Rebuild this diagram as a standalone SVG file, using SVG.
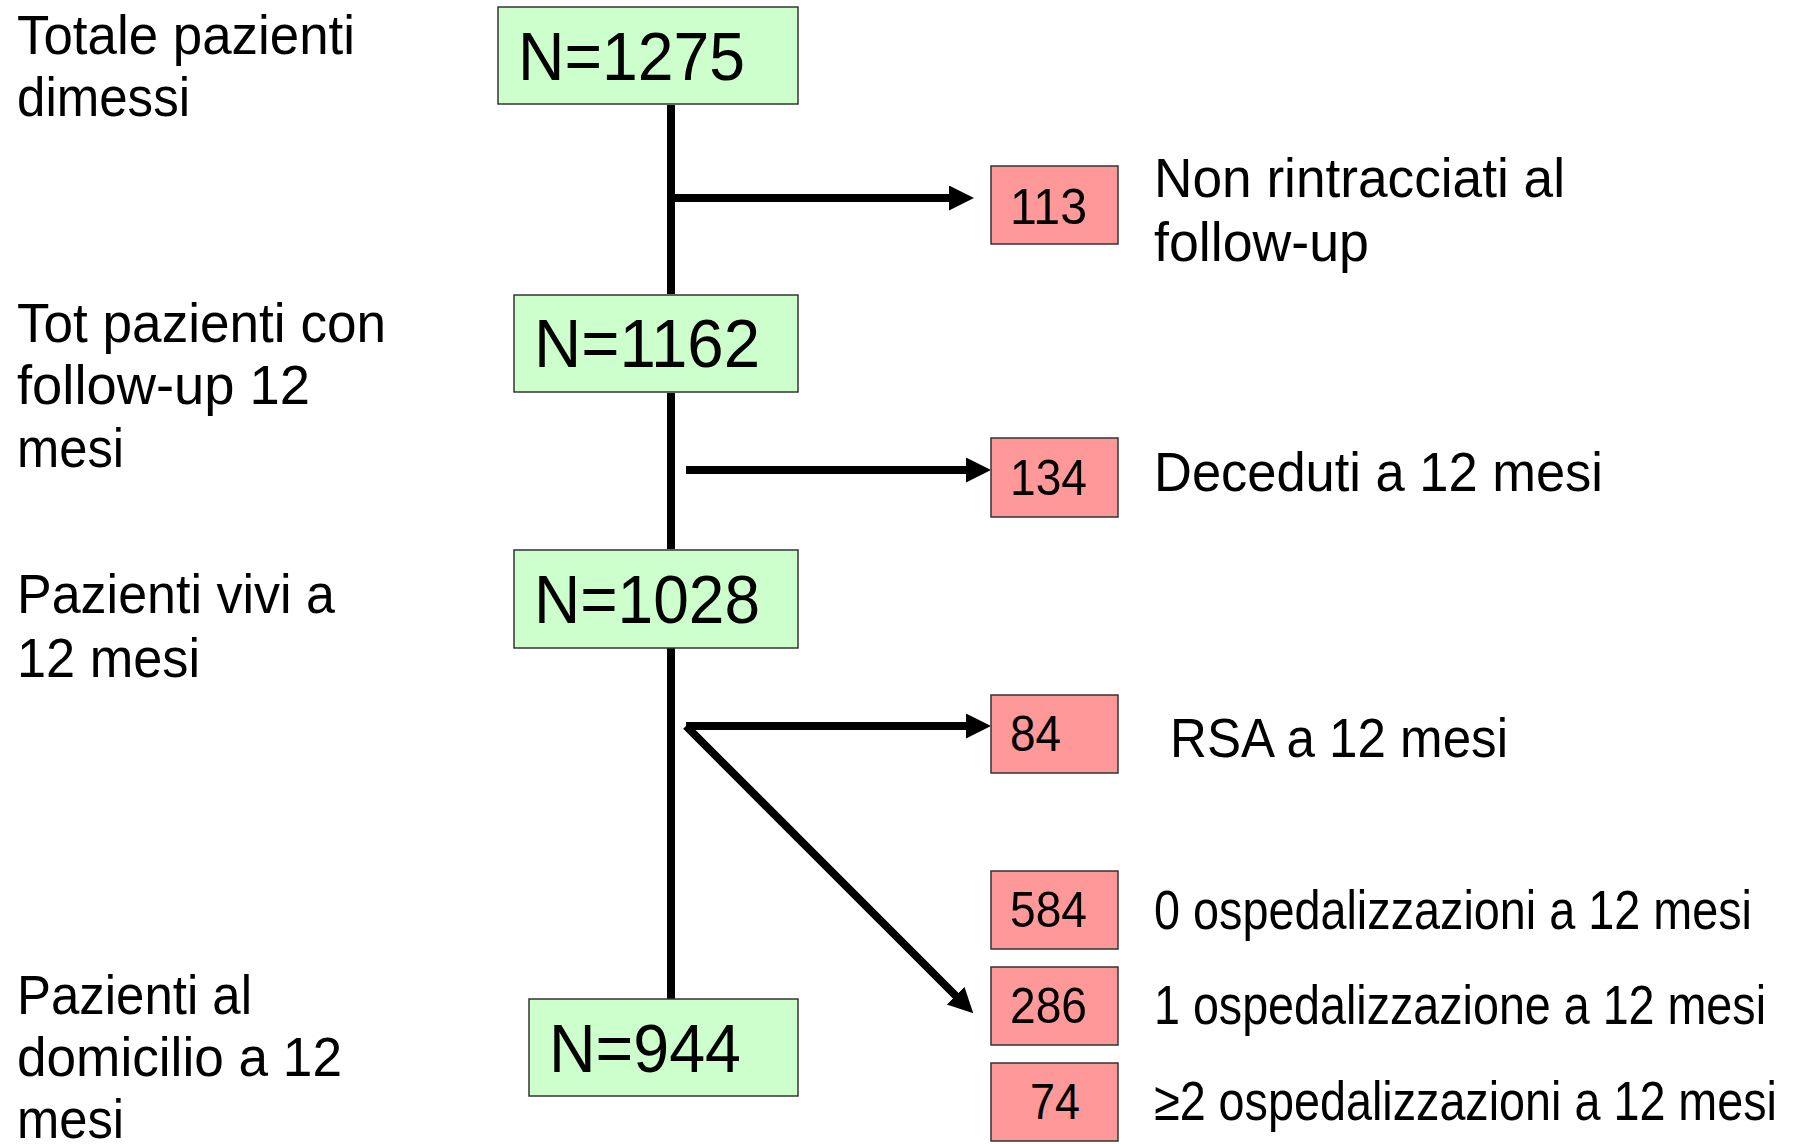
<svg xmlns="http://www.w3.org/2000/svg" width="1798" height="1144" viewBox="0 0 1798 1144">
<style>
text{font-family:"Liberation Sans",Arial,sans-serif;fill:#000}
.lbl{font-size:55px}
.big{font-size:68px}
.num{font-size:50px}
.g{fill:#CCFFCC;stroke:#333;stroke-width:1.5}
.p{fill:#FF9999;stroke:#333;stroke-width:1.5}
.c{stroke:#000;stroke-width:8;fill:none}
</style>
<defs>
<marker id="ah" markerUnits="userSpaceOnUse" markerWidth="26" markerHeight="26" refX="2" refY="12.5" orient="auto">
<path d="M0,0 L25,12.5 L0,25 z" fill="#000"/>
</marker>
</defs>
<rect width="1798" height="1144" fill="#fff"/>
<g id="labels-left" lengthAdjust="spacingAndGlyphs">
<text class="lbl" x="17" y="54" textLength="338" lengthAdjust="spacingAndGlyphs">Totale pazienti</text>
<text class="lbl" x="17" y="116" textLength="173" lengthAdjust="spacingAndGlyphs">dimessi</text>
<text class="lbl" x="17" y="342" textLength="369" lengthAdjust="spacingAndGlyphs">Tot pazienti con</text>
<text class="lbl" x="17" y="404" textLength="293" lengthAdjust="spacingAndGlyphs">follow-up 12</text>
<text class="lbl" x="17" y="467" textLength="107" lengthAdjust="spacingAndGlyphs">mesi</text>
<text class="lbl" x="17" y="613" textLength="318" lengthAdjust="spacingAndGlyphs">Pazienti vivi a</text>
<text class="lbl" x="17" y="677" textLength="183" lengthAdjust="spacingAndGlyphs">12 mesi</text>
<text class="lbl" x="17" y="1014" textLength="235" lengthAdjust="spacingAndGlyphs">Pazienti al</text>
<text class="lbl" x="17" y="1076" textLength="325" lengthAdjust="spacingAndGlyphs">domicilio a 12</text>
<text class="lbl" x="17" y="1138" textLength="107" lengthAdjust="spacingAndGlyphs">mesi</text>
</g>
<g id="connectors">
<line class="c" x1="671" y1="105" x2="671" y2="294"/>
<line class="c" x1="671" y1="393" x2="671" y2="549"/>
<line class="c" x1="671" y1="648" x2="671" y2="999"/>
<line class="c" x1="671" y1="198" x2="951" y2="198" marker-end="url(#ah)"/>
<line class="c" x1="686" y1="470" x2="968" y2="470" marker-end="url(#ah)"/>
<line class="c" x1="686" y1="726" x2="968" y2="726" marker-end="url(#ah)"/>
<line class="c" x1="686" y1="726" x2="957" y2="997" marker-end="url(#ah)"/>
</g>
<g id="n1275"><rect class="g" x="498" y="7" width="300" height="97"/><text class="big" x="518" y="80" textLength="227" lengthAdjust="spacingAndGlyphs">N=1275</text></g>
<g id="n1162"><rect class="g" x="514" y="295" width="284" height="97"/><text class="big" x="534" y="367" textLength="226" lengthAdjust="spacingAndGlyphs">N=1162</text></g>
<g id="n1028"><rect class="g" x="514" y="550" width="284" height="98"/><text class="big" x="534" y="623" textLength="226" lengthAdjust="spacingAndGlyphs">N=1028</text></g>
<g id="n944"><rect class="g" x="529" y="999" width="269" height="97"/><text class="big" x="549" y="1072" textLength="192" lengthAdjust="spacingAndGlyphs">N=944</text></g>
<g id="p113"><rect class="p" x="991" y="166" width="127" height="78"/><text class="num" x="1010" y="224" textLength="77" lengthAdjust="spacingAndGlyphs">113</text></g>
<g id="p134"><rect class="p" x="991" y="438" width="127" height="79"/><text class="num" x="1010" y="495" textLength="77" lengthAdjust="spacingAndGlyphs">134</text></g>
<g id="p84"><rect class="p" x="991" y="695" width="127" height="78"/><text class="num" x="1010" y="751" textLength="51" lengthAdjust="spacingAndGlyphs">84</text></g>
<g id="p584"><rect class="p" x="991" y="871" width="127" height="78"/><text class="num" x="1010" y="927" textLength="77" lengthAdjust="spacingAndGlyphs">584</text></g>
<g id="p286"><rect class="p" x="991" y="967" width="127" height="78"/><text class="num" x="1010" y="1023" textLength="77" lengthAdjust="spacingAndGlyphs">286</text></g>
<g id="p74"><rect class="p" x="991" y="1063" width="127" height="78"/><text class="num" x="1030" y="1119" textLength="50" lengthAdjust="spacingAndGlyphs">74</text></g>
<g id="labels-right">
<text class="lbl" x="1154" y="197" textLength="411" lengthAdjust="spacingAndGlyphs">Non rintracciati al</text>
<text class="lbl" x="1154" y="261" textLength="215" lengthAdjust="spacingAndGlyphs">follow-up</text>
<text class="lbl" x="1154" y="491" textLength="449" lengthAdjust="spacingAndGlyphs">Deceduti a 12 mesi</text>
<text class="lbl" x="1170" y="757" textLength="338" lengthAdjust="spacingAndGlyphs">RSA a 12 mesi</text>
<text class="lbl" x="1154" y="929" textLength="598" lengthAdjust="spacingAndGlyphs">0 ospedalizzazioni a 12 mesi</text>
<text class="lbl" x="1154" y="1024" textLength="612" lengthAdjust="spacingAndGlyphs">1 ospedalizzazione a 12 mesi</text>
<text class="lbl" x="1154" y="1120" textLength="623" lengthAdjust="spacingAndGlyphs">≥2 ospedalizzazioni a 12 mesi</text>
</g>
</svg>
